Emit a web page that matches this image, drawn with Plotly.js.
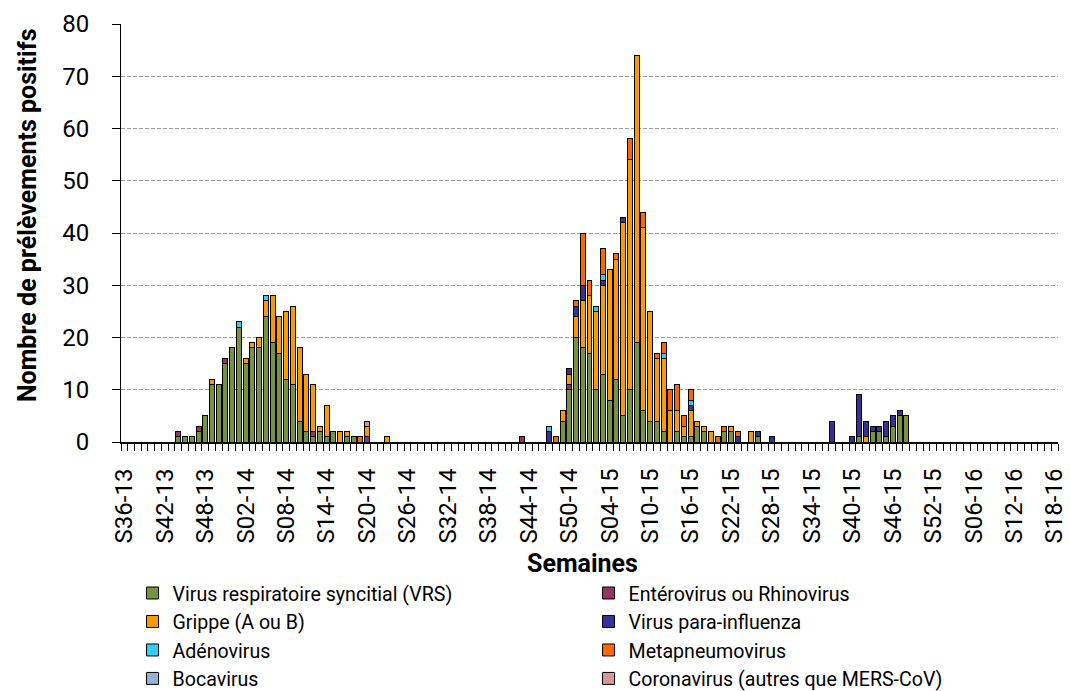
<!DOCTYPE html>
<html>
<head>
<meta charset="utf-8">
<script src="https://cdn.plot.ly/plotly-3.0.1.min.js"></script>
<style>html,body{margin:0;padding:0;background:#fff;}</style>
</head>
<body>
<div id="chart" style="width:1070px;height:691px;"></div>
<script>
// Week categories: S36-13 ... S52-13, S01-14 ... S52-14, S01-15 ... S52-15, S01-16 ... S18-16
const yearSpans = [["13", 36, 52], ["14", 1, 52], ["15", 1, 52], ["16", 1, 18]];
const weeks = [];
yearSpans.forEach(([yy, a, b]) => { for (let w = a; w <= b; w++) weeks.push("S" + String(w).padStart(2, "0") + "-" + yy); });

const seriesNames = [
  "Virus respiratoire syncitial (VRS)",
  "Entérovirus ou Rhinovirus",
  "Grippe (A ou B)",
  "Virus para-influenza",
  "Adénovirus",
  "Metapneumovirus",
  "Bocavirus",
  "Coronavirus (autres que MERS-CoV)"
];
const xTitle = "Semaines";
const yTitle = "Nombre de prélèvements positifs";

// values per week (rows: 2013 S36-S52 | 2014 S01-S52 | 2015 S01-S52 | 2016 S01-S18)
const vrs = [
  0,0,0,0,0,0,0,0,1,1,1,2,5,11,11,15,18,
  22,15,18,18,24,19,17,12,11,4, 2,1,2,1,2,0,1,1,0,0, 0,0,0,0,0,0,0,0,0,0, 0,0,0,0,0,0,0,0,0,0, 0,0,0,0,0,0,0,0,4,10, 20,18,
  17,10,13,8,12,5,10,19,6,4, 4,2,0,2,1,1,3,2,0,0, 2,2,0,0,0,1,0,0,0,0, 0,0,0,0,0,0,0,0,0,0, 1,0,2,2,1,3,5,5,0,0, 0,0,
  0,0,0,0,0,0,0,0,0,0, 0,0,0,0,0,0,0,0
];
const entero = [
  0,0,0,0,0,0,0,0,1,0,0,1,0,0,0,1,0,
  0,0,0,0,0,0,0,0,0,0, 0,1,0,0,0,0,0,0,0,1, 0,0,0,0,0,0,0,0,0,0, 0,0,0,0,0,0,0,0,0,0, 0,0,1,0,0,0,0,0,0,1, 0,0,
  0,0,0,0,0,0,0,0,0,0, 0,0,0,0,0,0,0,0,0,0, 0,0,0,0,0,0,0,0,0,0, 0,0,0,0,0,0,0,0,0,0, 0,0,0,0,0,0,0,0,0,0, 0,0,
  0,0,0,0,0,0,0,0,0,0, 0,0,0,0,0,0,0,0
];
const grippe = [
  0,0,0,0,0,0,0,0,0,0,0,0,0,1,0,0,0,
  0,1,1,2,3,9,7,13,15,14, 11,9,1,6,0,2,1,0,0,2, 0,0,1,0,0,0,0,0,0,0, 0,0,0,0,0,0,0,0,0,0, 0,0,0,0,0,0,0,0,2,2, 4,9,
  11,15,17,25,23,37,44,55,35,21, 12,14,6,4,2,5,1,1,2,0, 0,1,0,0,2,0,0,0,0,0, 0,0,0,0,0,0,0,0,0,0, 0,1,0,0,0,0,0,0,0,0, 0,0,
  0,0,0,0,0,0,0,0,0,0, 0,0,0,0,0,0,0,0
];
const parainfluenza = [
  0,0,0,0,0,0,0,0,0,0,0,0,0,0,0,0,0,
  0,0,0,0,0,0,0,0,0,0, 0,0,0,0,0,0,0,0,0,0, 0,0,0,0,0,0,0,0,0,0, 0,0,0,0,0,0,0,0,0,0, 0,0,0,0,0,0,2,0,0,1, 2,3,
  0,0,1,0,0,1,0,0,0,0, 0,0,0,0,0,1,0,0,0,0, 0,0,1,0,0,1,0,1,0,0, 0,0,0,0,0,0,4,0,0,1, 8,3,1,1,3,2,1,0,0,0, 0,0,
  0,0,0,0,0,0,0,0,0,0, 0,0,0,0,0,0,0,0
];
const adenovirus = [
  0,0,0,0,0,0,0,0,0,0,0,0,0,0,0,0,0,
  1,0,0,0,1,0,0,0,0,0, 0,0,0,0,0,0,0,0,0,0, 0,0,0,0,0,0,0,0,0,0, 0,0,0,0,0,0,0,0,0,0, 0,0,0,0,0,0,1,0,0,0, 0,0,
  0,1,1,0,0,0,0,0,0,0, 0,1,0,0,0,1,0,0,0,0, 0,0,0,0,0,0,0,0,0,0, 0,0,0,0,0,0,0,0,0,0, 0,0,0,0,0,0,0,0,0,0, 0,0,
  0,0,0,0,0,0,0,0,0,0, 0,0,0,0,0,0,0,0
];
const metapneumovirus = [
  0,0,0,0,0,0,0,0,0,0,0,0,0,0,0,0,0,
  0,0,0,0,0,0,0,0,0,0, 0,0,0,0,0,0,0,0,1,0, 0,0,0,0,0,0,0,0,0,0, 0,0,0,0,0,0,0,0,0,0, 0,0,0,0,0,0,0,1,0,0, 1,10,
  3,0,5,0,1,0,4,0,3,0, 1,2,4,5,2,2,0,0,0,1, 1,0,1,0,0,0,0,0,0,0, 0,0,0,0,0,0,0,0,0,0, 0,0,0,0,0,0,0,0,0,0, 0,0,
  0,0,0,0,0,0,0,0,0,0, 0,0,0,0,0,0,0,0
];
const bocavirus = [
  0,0,0,0,0,0,0,0,0,0,0,0,0,0,0,0,0,
  0,0,0,0,0,0,0,0,0,0, 0,0,0,0,0,0,0,0,0,0, 0,0,0,0,0,0,0,0,0,0, 0,0,0,0,0,0,0,0,0,0, 0,0,0,0,0,0,0,0,0,0, 0,0,
  0,0,0,0,0,0,0,0,0,0, 0,0,0,0,0,0,0,0,0,0, 0,0,0,0,0,0,0,0,0,0, 0,0,0,0,0,0,0,0,0,0, 0,0,0,0,0,0,0,0,0,0, 0,0,
  0,0,0,0,0,0,0,0,0,0, 0,0,0,0,0,0,0,0
];
const coronavirus = [
  0,0,0,0,0,0,0,0,0,0,0,0,0,0,0,0,0,
  0,0,0,0,0,0,0,0,0,0, 0,0,0,0,0,0,0,0,0,1, 0,0,0,0,0,0,0,0,0,0, 0,0,0,0,0,0,0,0,0,0, 0,0,0,0,0,0,0,0,0,0, 0,0,
  0,0,0,0,0,0,0,0,0,0, 0,0,0,0,0,0,0,0,0,0, 0,0,0,0,0,0,0,0,0,0, 0,0,0,0,0,0,0,0,0,0, 0,0,0,0,0,0,0,0,0,0, 0,0,
  0,0,0,0,0,0,0,0,0,0, 0,0,0,0,0,0,0,0
];

const seriesValues = [vrs, entero, grippe, parainfluenza, adenovirus, metapneumovirus, bocavirus, coronavirus];
const seriesColors = ["#77933C", "#993366", "#FF9900", "#333399", "#33CCFF", "#FF6600", "#95B3D7", "#D99694"];

const FONT = 'Roboto, "Liberation Sans", sans-serif';

const traces = seriesValues.map((vals, k) => ({
  type: "bar",
  name: seriesNames[k],
  x: weeks,
  y: vals,
  marker: { color: seriesColors[k], line: { color: "#000000", width: 1 } },
  hoverinfo: "x+y+name"
}));

const layout = {
  width: 1070,
  height: 691,
  margin: { l: 121, r: 12, t: 24, b: 249, pad: 0, autoexpand: false },
  barmode: "stack",
  bargap: 0.26,
  paper_bgcolor: "#ffffff",
  plot_bgcolor: "#ffffff",
  font: { family: FONT, size: 22, color: "#000000" },
  showlegend: true,
  xaxis: {
    type: "category",
    tickmode: "linear",
    tick0: 0,
    dtick: 1,
    ticklabelstep: 6,
    tickson: "boundaries",
    ticks: "outside",
    ticklen: 7,
    tickwidth: 1,
    tickcolor: "#000000",
    tickangle: -90,
    tickfont: { family: FONT, size: 24, color: "#000000" },
    ticklabelstandoff: 15,
    showline: true,
    linecolor: "#000000",
    linewidth: 2,
    showgrid: false,
    zeroline: false,
    automargin: false
  },
  yaxis: {
    range: [0, 80],
    tickmode: "linear",
    tick0: 0,
    dtick: 10,
    ticks: "outside",
    ticklen: 8,
    tickcolor: "#000000",
    tickfont: { family: FONT, size: 24, color: "#000000" },
    ticklabelstandoff: 18,
    showline: true,
    linecolor: "#000000",
    linewidth: 1,
    showgrid: true,
    gridcolor: "#999999",
    griddash: "4px,2px",
    gridwidth: 1,
    zeroline: false,
    automargin: false
  },
  annotations: [
    {
      text: "<b>" + yTitle + "</b>",
      xref: "paper", yref: "paper",
      x: -0.1003, y: 0.543,
      xanchor: "center", yanchor: "middle",
      textangle: -90,
      showarrow: false,
      font: { family: FONT, size: 25, color: "#000000" }
    },
    {
      text: "<b>" + xTitle + "</b>",
      xref: "paper", yref: "paper",
      x: 0.492, y: -0.2895,
      xanchor: "center", yanchor: "middle",
      showarrow: false,
      font: { family: FONT, size: 25, color: "#000000" }
    }
  ],
  legend: {
    orientation: "h",
    x: 0.0123,
    xanchor: "left",
    y: -0.3152,
    yanchor: "top",
    entrywidth: 411,
    entrywidthmode: "pixels",
    traceorder: "normal",
    font: { family: FONT, size: 19.6, color: "#000000" },
    bgcolor: "rgba(0,0,0,0)",
    itemwidth: 30
  }
};

Plotly.newPlot("chart", traces, layout, { displayModeBar: false, staticPlot: true });
</script>
</body>
</html>
